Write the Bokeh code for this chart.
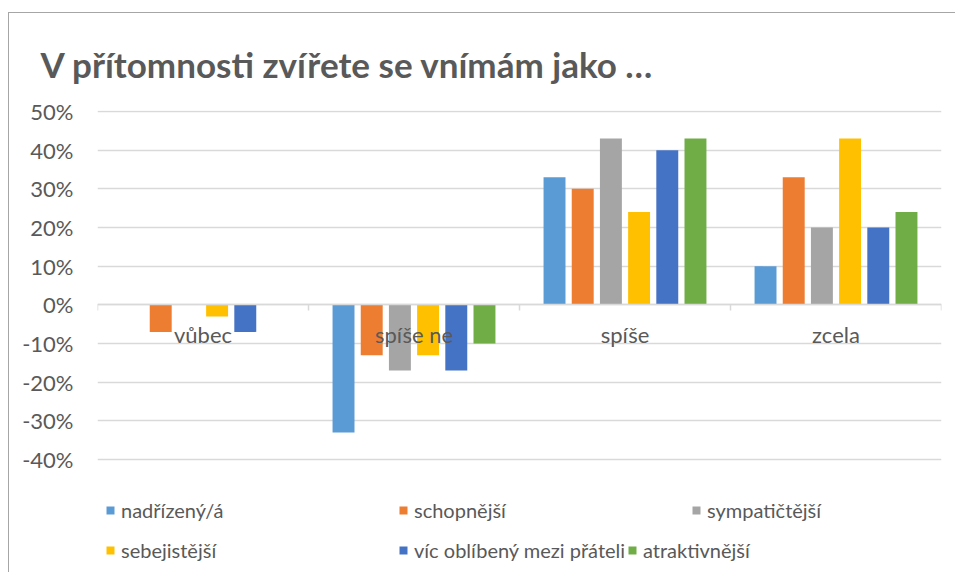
from bokeh.plotting import figure
from bokeh.models import (Range1d, FixedTicker, NumeralTickFormatter, Legend, LegendItem,
                          ColumnDataSource)
from bokeh.transform import dodge
from bokeh.embed import file_html
from bokeh.resources import INLINE

# ---------------- data ----------------
categories = ["vůbec", "spíše ne", "spíše", "zcela"]
series_names = ["nadřízený/á", "schopnější", "sympatičtější",
                "sebejistější", "víc oblíbený mezi přáteli", "atraktivnější"]
nadrizeny = [0.00, -0.33, 0.33, 0.10]
schopnejsi = [-0.07, -0.13, 0.30, 0.33]
sympatictejsi = [0.00, -0.17, 0.43, 0.20]
sebejistejsi = [-0.03, -0.13, 0.24, 0.43]
oblibeny = [-0.07, -0.17, 0.40, 0.20]
atraktivnejsi = [0.00, -0.10, 0.43, 0.24]
y_ticks = [-0.4, -0.3, -0.2, -0.1, 0.0, 0.1, 0.2, 0.3, 0.4, 0.5]
title_text = "V přítomnosti zvířete se vnímám jako …"

series_values = [nadrizeny, schopnejsi, sympatictejsi, sebejistejsi, oblibeny, atraktivnejsi]
colors = ["#5B9BD5", "#ED7D31", "#A5A5A5", "#FFC000", "#4472C4", "#70AD47"]

FONT = "Lato"
TXT = "#595959"

n = len(categories)
centers = [i + 0.5 for i in range(n)]
src = ColumnDataSource(data=dict(xc=centers,
                                 **{f"s{i}": v for i, v in enumerate(series_values)}))

# frame also holds the legend zone below the -40% line
p = figure(x_range=Range1d(0, n), y_range=Range1d(-0.6947, 0.5026),
           width=947, height=560, output_backend="svg", toolbar_location=None,
           min_border_left=88, min_border_right=15, min_border_top=97, min_border_bottom=0)
p.styles = {"margin-left": "8px", "margin-top": "12px",
            "border-left": "1px solid #a6a6a6", "border-top": "1px solid #a6a6a6"}
p.outline_line_color = None
p.background_fill_color = "white"
p.border_fill_color = "white"

# title
p.title.text = title_text
p.title.align = "left"
p.title.offset = -57
p.title.standoff = 52
p.title.text_font = FONT
p.title.text_font_style = "bold"
p.title.text_font_size = "35px"
p.title.text_color = TXT

# bars
step = 0.1336
bar_w = 0.104
renderers = []
for i in range(6):
    off = (i - 2.5) * step
    r = p.vbar(x=dodge("xc", off), top=f"s{i}", width=bar_w,
               source=src, fill_color=colors[i], line_color=None)
    renderers.append(r)

# y axis
ya = p.yaxis[0]
ya.ticker = FixedTicker(ticks=y_ticks)
ya.formatter = NumeralTickFormatter(format="0%")
ya.axis_line_color = None
ya.major_tick_line_color = None
ya.minor_tick_line_color = None
ya.major_label_standoff = 18
ya.major_label_text_font = FONT
ya.major_label_text_font_size = "22px"
ya.major_label_text_color = TXT

p.ygrid.ticker = FixedTicker(ticks=y_ticks)
p.ygrid.grid_line_color = "#d9d9d9"
p.ygrid.grid_line_width = 1.5
p.xgrid.grid_line_color = None

# category axis at zero: labels at centers, boundary ticks as minor ticks
xa = p.xaxis[0]
xa.fixed_location = 0
xa.ticker = FixedTicker(ticks=centers, minor_ticks=list(range(n + 1)))
xa.major_label_overrides = {c: lab for c, lab in zip(centers, categories)}
xa.axis_line_color = "#d9d9d9"
xa.axis_line_width = 1.5
xa.major_tick_line_color = None
xa.minor_tick_line_color = "#d9d9d9"
xa.minor_tick_line_width = 1.5
xa.minor_tick_out = 6
xa.minor_tick_in = 0
xa.major_tick_out = 0
xa.major_tick_in = 0
xa.major_label_standoff = 10
xa.major_label_text_font = FONT
xa.major_label_text_font_size = "22px"
xa.major_label_text_color = TXT

# legends (one per item, Excel-like flow), located from the frame's bottom-left
legend_pos = [(8, 51), (301, 51), (594, 51), (8, 11), (301, 11), (530, 11)]
for i in range(6):
    leg = Legend(items=[LegendItem(label=series_names[i], renderers=[renderers[i]])],
                 location=legend_pos[i], orientation="horizontal",
                 padding=0, margin=0, spacing=0,
                 border_line_color=None, background_fill_alpha=0,
                 glyph_width=10, glyph_height=10, label_standoff=6, label_height=10,
                 label_text_font=FONT, label_text_font_size="20px",
                 label_text_color=TXT)
    p.add_layout(leg)

open("out.html", "w").write(file_html(p, INLINE))
